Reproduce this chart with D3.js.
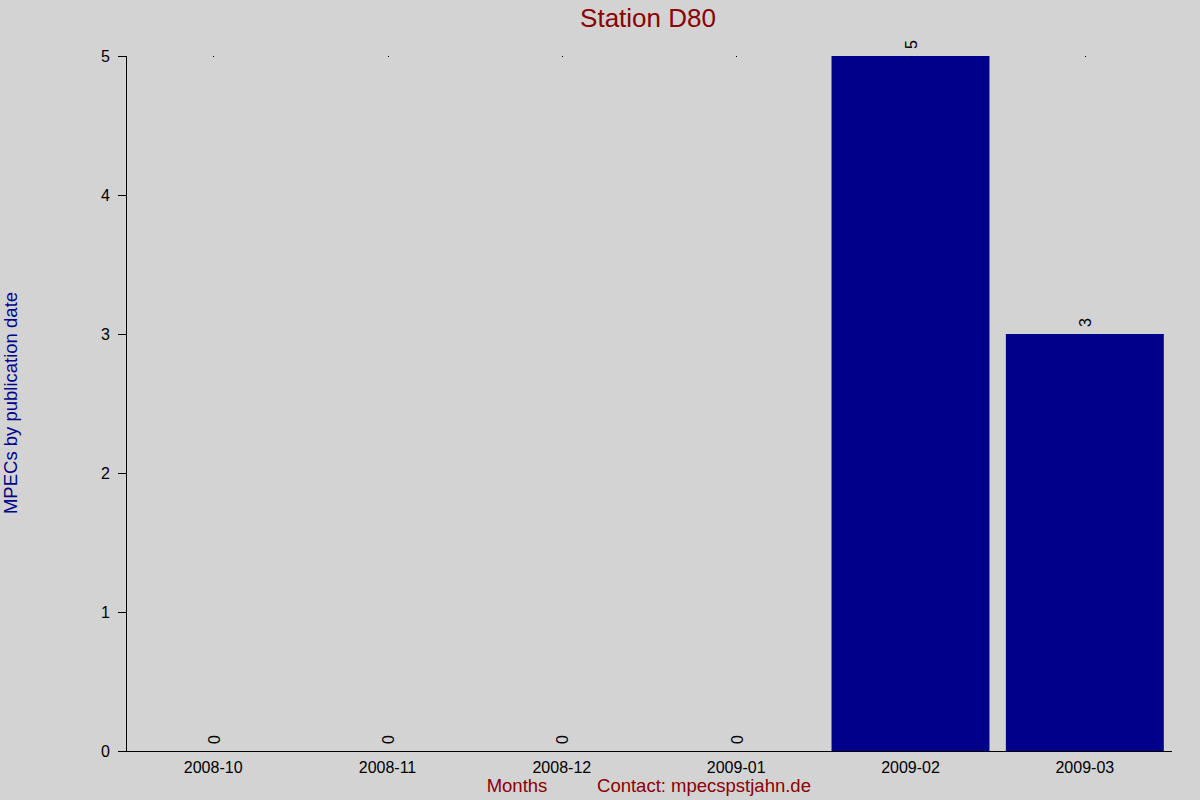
<!DOCTYPE html>
<html lang="en">
<head>
<meta charset="utf-8">
<title>Station D80</title>
<script src="https://cdn.jsdelivr.net/npm/d3@7"></script>
<style>
  html, body { margin: 0; padding: 0; background: #d3d3d3; }
  svg { display: block; font-family: "Liberation Sans", Arial, sans-serif; }
</style>
</head>
<body>
<svg width="1200" height="800"></svg>
<script>
// data
const months = ["2008-10", "2008-11", "2008-12", "2009-01", "2009-02", "2009-03"];
const counts = [0, 0, 0, 0, 5, 3];
const yTicks = [0, 1, 2, 3, 4, 5];

const svg = d3.select("svg");
const plot = {left: 126, right: 1172, top: 56, bottom: 751};

svg.append("rect")
  .attr("width", 1200).attr("height", 800)
  .attr("fill", "#d3d3d3");

const x = d3.scaleBand()
  .domain(months)
  .range([plot.left, plot.right])
  .paddingInner(0.094)
  .paddingOuter(0.047);

const y = d3.scaleLinear()
  .domain([0, 5])
  .range([plot.bottom, plot.top]);

// bars
svg.selectAll("rect.bar")
  .data(counts)
  .enter().append("rect").attr("class", "bar")
  .attr("x", function(d, i) { return x(months[i]); })
  .attr("y", function(d) { return y(d); })
  .attr("width", x.bandwidth())
  .attr("height", function(d) { return y(0) - y(d); })
  .attr("fill", "#00008b");

// little dots along the top
svg.selectAll("rect.dot")
  .data(months)
  .enter().append("rect").attr("class", "dot")
  .attr("x", function(d) { return Math.round(x(d) + x.bandwidth() / 2); })
  .attr("y", y(5))
  .attr("width", 1).attr("height", 1)
  .attr("shape-rendering", "crispEdges")
  .attr("fill", "#000");

// value labels, rotated
svg.selectAll("text.val")
  .data(counts)
  .enter().append("text").attr("class", "val")
  .attr("transform", function(d, i) {
    return "translate(" + (x(months[i]) + x.bandwidth() / 2 + 1) + "," + (y(d) - 7) + ") rotate(-90)";
  })
  .attr("dy", "0.35em")
  .attr("font-size", 16)
  .attr("fill", "#000")
  .text(function(d) { return d; });

// y axis
const yAxis = d3.axisLeft(y).tickValues(yTicks).tickSize(8).tickPadding(8).tickFormat(d3.format("d"));
const gy = svg.append("g")
  .attr("transform", "translate(" + plot.left + ",0)")
  .call(yAxis);
gy.select(".domain").attr("stroke", "#000").attr("d", "M0.5," + plot.top + "V" + plot.bottom);
gy.selectAll(".tick line").attr("stroke", "#000");
gy.selectAll(".tick text").attr("font-size", 16).attr("fill", "#000")
  .attr("font-family", "Liberation Sans, Arial, sans-serif");

// x axis
const xAxis = d3.axisBottom(x).tickSize(0).tickPadding(11);
const gx = svg.append("g")
  .attr("transform", "translate(0," + plot.bottom + ")")
  .call(xAxis);
gx.select(".domain").attr("stroke", "#000").attr("d", "M" + plot.left + ",0.5H" + plot.right);
gx.selectAll(".tick text").attr("font-size", 16).attr("fill", "#000")
  .attr("font-family", "Liberation Sans, Arial, sans-serif");

// titles
svg.append("text")
  .attr("x", 648).attr("y", 27)
  .attr("text-anchor", "middle")
  .attr("font-size", 26)
  .attr("fill", "#8b0000")
  .text("Station D80");

svg.append("text")
  .attr("transform", "translate(17,403) rotate(-90)")
  .attr("text-anchor", "middle")
  .attr("font-size", 18.5)
  .attr("fill", "#00008b")
  .text("MPECs by publication date");

svg.append("text")
  .attr("x", 517).attr("y", 792)
  .attr("text-anchor", "middle")
  .attr("font-size", 18.5)
  .attr("fill", "#8b0000")
  .text("Months");

svg.append("text")
  .attr("x", 704).attr("y", 792)
  .attr("text-anchor", "middle")
  .attr("font-size", 18.5)
  .attr("fill", "#8b0000")
  .text("Contact: mpecspstjahn.de");
</script>
</body>
</html>
